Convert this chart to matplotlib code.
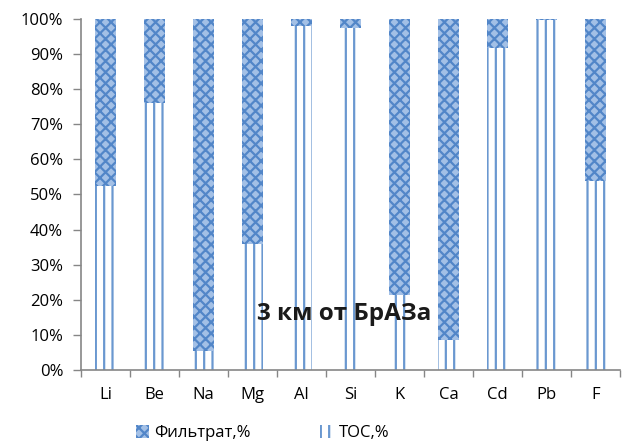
import matplotlib.pyplot as plt
import numpy as np

# === Data ===
elements = ["Li", "Be", "Na", "Mg", "Al", "Si", "K", "Ca", "Cd", "Pb", "F"]
toc = [52.3, 76.0, 5.5, 36.0, 98.0, 97.5, 21.5, 8.5, 91.8, 99.6, 53.7]
filtrate = [100 - v for v in toc]

plt.rcParams["font.family"] = ["Open Sans", "DejaVu Sans"]
plt.rcParams["hatch.linewidth"] = 1.6

fig = plt.figure(figsize=(6.25, 4.48), dpi=100)
ax = fig.add_axes([0.13, 0.174, 0.862, 0.784])

x = np.arange(len(elements))
w = 0.43

# === Bars ===
ax.bar(x, toc, width=w, color="white", edgecolor="#6A98D0", linewidth=0,
       hatch="||", label="ТОС,%")
ax.bar(x, filtrate, width=w, bottom=toc, color="#A3C0E6", edgecolor="#5286C8",
       linewidth=0, hatch="xxx", label="Фильтрат,%")

# === Axes ===
fs = 12
ax.set_xlim(-0.5, len(elements) - 0.5)
ax.set_ylim(0, 100)
ax.set_yticks(np.arange(0, 101, 10))
ax.set_yticklabels([f"{v}%" for v in range(0, 101, 10)], fontsize=fs)
ax.set_xticks(x)
ax.set_xticklabels(elements, fontsize=fs)
ax.set_xticks(np.arange(-0.5, len(elements), 1), minor=True)
ax.tick_params(axis="x", which="major", length=0, pad=12)
ax.tick_params(axis="x", which="minor", length=5, color="#868686", width=1)
ax.tick_params(axis="y", length=6, color="#868686", width=1, pad=7)
for s in ["top", "right"]:
    ax.spines[s].set_visible(False)
for s in ["left", "bottom"]:
    ax.spines[s].set_color("#868686")
    ax.spines[s].set_linewidth(1.2)

ax.text(0.488, 0.16, "3 км от БрАЗа", transform=ax.transAxes, ha="center",
        va="center", fontsize=17.5, fontweight="bold", color="#1a1a1a")

# === Legend ===
h, l = ax.get_legend_handles_labels()
fig.legend(h[::-1], l[::-1], loc="center", bbox_to_anchor=(0.42, 0.033), ncol=2,
           frameon=False, fontsize=fs, columnspacing=4.2, handlelength=0.8,
           handleheight=0.8, handletextpad=0.3)

plt.savefig("out.png", dpi=100)
